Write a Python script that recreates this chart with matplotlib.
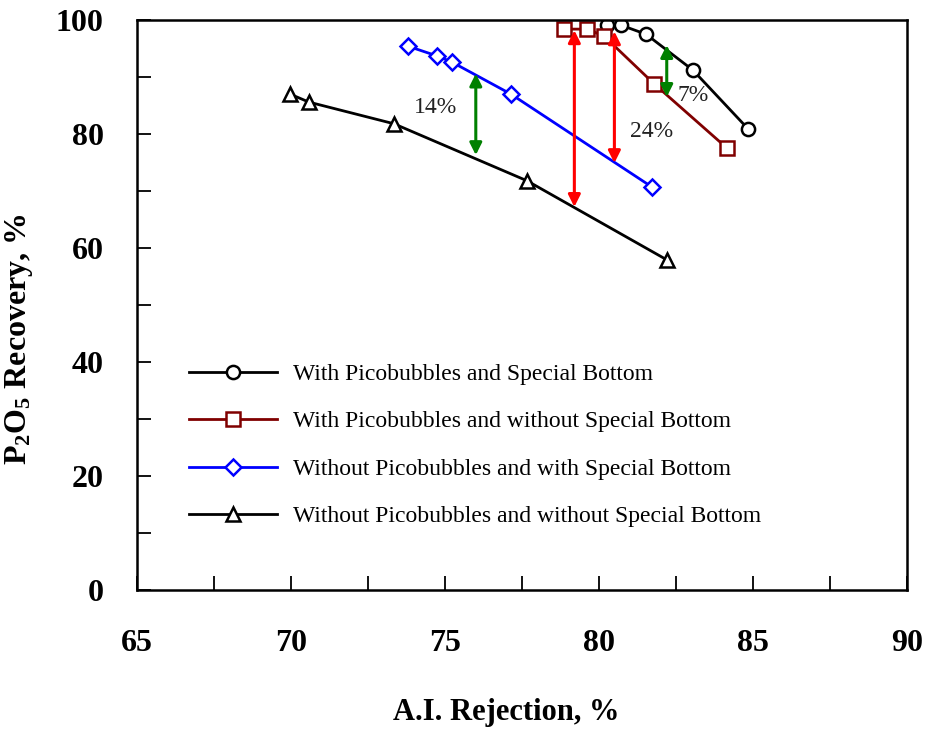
import matplotlib
matplotlib.use("Agg")
import matplotlib.pyplot as plt
from matplotlib.ticker import MultipleLocator

plt.rcParams["font.family"] = ["Liberation Serif", "DejaVu Serif"]
plt.rcParams["mathtext.fontset"] = "custom"
plt.rcParams["mathtext.rm"] = "Liberation Serif"
plt.rcParams["mathtext.bf"] = "Liberation Serif:bold"

# data
x_circle = [80.26, 80.71, 81.53, 83.05, 84.84]
y_circle = [99.1, 99.1, 97.5, 91.2, 80.9]
x_square = [78.86, 79.61, 80.16, 81.79, 84.16]
y_square = [98.4, 98.4, 97.2, 88.8, 77.5]
x_diamond = [73.80, 74.74, 75.23, 77.14, 81.72]
y_diamond = [95.4, 93.7, 92.6, 87.0, 70.7]
x_tri = [69.97, 70.58, 73.34, 77.66, 82.21]
y_tri = [87.0, 85.6, 81.8, 71.8, 57.9]

labels = [
    "With Picobubbles and Special Bottom",
    "With Picobubbles and without Special Bottom",
    "Without Picobubbles and with Special Bottom",
    "Without Picobubbles and without Special Bottom",
]

# arrows: x, y_low, y_high, colour
arrows = [
    (76.0, 76.3, 90.6, "green"),
    (79.2, 67.2, 98.2, "red"),
    (80.5, 74.9, 98.0, "red"),
    (82.2, 86.5, 95.6, "green"),
]
gap_text = [("14%", 74.7, 84.7), ("24%", 81.7, 80.4), ("7%", 83.05, 86.8)]

fig = plt.figure(figsize=(9.27, 7.3), dpi=100)
ax = fig.add_axes([0.1478, 0.1918, 0.8306, 0.7808])

mk = dict(markersize=9.5, markerfacecolor="white", markeredgewidth=1.8, linewidth=2)
ax.plot(x_circle, y_circle, "-o", color="black", label=labels[0], **mk)
ax.plot(x_square, y_square, "-s", color="#800000", label=labels[1], **mk)
ax.plot(x_diamond, y_diamond, "-D", color="#0000ff", label=labels[2],
        **{**mk, "markersize": 8})
ax.plot(x_tri, y_tri, "-^", color="black", label=labels[3], **mk)

for x, y0, y1, c in arrows:
    ax.annotate("", xy=(x, y1), xytext=(x, y0),
                arrowprops=dict(arrowstyle="<|-|>", color=c, lw=2.2,
                                mutation_scale=18, shrinkA=0, shrinkB=0))
for t, x, y in gap_text:
    ax.text(x, y, t, fontsize=17, ha="center", va="center", color="#222222")

ax.set_xlim(65, 90)
ax.set_ylim(0, 100)
ax.xaxis.set_major_locator(MultipleLocator(5))
ax.xaxis.set_minor_locator(MultipleLocator(2.5))
ax.yaxis.set_major_locator(MultipleLocator(20))
ax.yaxis.set_minor_locator(MultipleLocator(10))
ax.tick_params(which="both", direction="in", top=False, right=False, width=1.3)
ax.tick_params(which="both", length=10)
ax.tick_params(axis="x", pad=28)
ax.tick_params(axis="y", pad=24)
for lab in ax.get_xticklabels() + ax.get_yticklabels():
    lab.set_fontweight("bold")
    lab.set_fontsize(23)
for s in ax.spines.values():
    s.set_linewidth(1.8)

ax.set_xlabel("A.I. Rejection, %", fontsize=22, fontweight="bold")
ax.xaxis.set_label_coords(0.479, -0.19)
ax.set_ylabel("$\\mathbf{P_2O_5}$ Recovery, %", fontsize=23, fontweight="bold")
ax.yaxis.set_label_coords(-0.133, 0.44)

ax.legend(loc="upper left", bbox_to_anchor=(0.055, 0.414), frameon=False,
          fontsize=17, handlelength=3.75, handletextpad=0.65, labelspacing=1.1,
          borderaxespad=0)

plt.savefig("out.png", dpi=100)
plt.close(fig)
